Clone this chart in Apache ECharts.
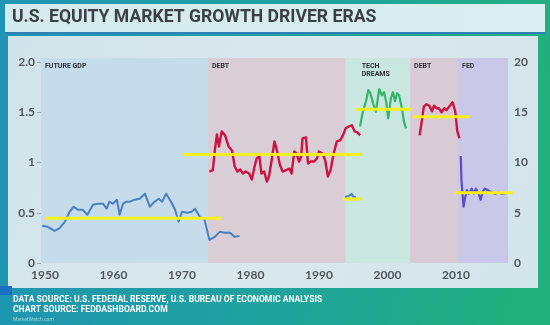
<!DOCTYPE html>
<html><head><meta charset="utf-8">
<script src="https://cdn.jsdelivr.net/npm/echarts@6/dist/echarts.min.js"></script>
<style>html,body{margin:0;padding:0;background:#1e9db0;}#c{width:550px;height:325px;}</style>
</head><body><div id="c"></div>
<script>
// ---- data ----
const xTickLabels = [1950, 1960, 1970, 1980, 1990, 2000, 2010];
const leftTicks = [0, 0.5, 1, 1.5, 2];
const rightTicks = [0, 5, 10, 15, 20];

const eraLabels = ['FUTURE GDP', 'DEBT', 'TECH\nDREAMS', 'DEBT', 'FED'];
const eraBounds = [1949.42, 1973.8, 1993.9, 2003.3, 2010.3, 2017.6];

const gdpYears = [1949.6,1950.4,1951.4,1952.1,1952.9,1953.6,1954.2,1954.8,1955.5,1956.2,1957.0,1957.7,1958.5,1959.0,1959.4,1959.9,1960.5,1960.9,1961.4,1961.9,1962.4,1963.1,1963.8,1964.6,1965.3,1966.0,1966.6,1967.1,1967.7,1968.4,1969.0,1969.5,1970.0,1970.8,1971.4,1971.9,1972.6,1973.3,1974.0,1974.8,1975.5,1976.2,1977.0,1977.7,1978.4];
const gdpValues = [0.37,0.36,0.32,0.345,0.41,0.51,0.56,0.53,0.53,0.48,0.58,0.59,0.59,0.54,0.61,0.59,0.63,0.48,0.59,0.61,0.61,0.63,0.64,0.69,0.56,0.61,0.64,0.61,0.69,0.61,0.53,0.41,0.51,0.50,0.51,0.54,0.46,0.43,0.23,0.26,0.31,0.30,0.30,0.26,0.27];

const gdp2Years = [1993.8,1994.4,1994.8,1995.0,1995.4];
const gdp2Values = [0.654,0.67,0.687,0.66,0.654];

const debtYears = [1974.0,1974.5,1974.8,1975.1,1975.4,1975.8,1976.3,1976.8,1977.3,1977.7,1978.1,1978.5,1978.9,1979.3,1979.8,1980.2,1980.6,1980.9,1981.3,1981.6,1982.0,1982.4,1982.7,1983.1,1983.5,1983.9,1984.3,1984.7,1985.2,1985.7,1986.0,1986.4,1986.7,1987.1,1987.4,1987.6,1988.1,1988.4,1988.8,1989.3,1989.7,1990.0,1990.5,1990.9,1991.3,1991.7,1992.1,1992.6,1993.1,1993.5,1993.9,1994.4,1994.8,1995.2,1995.6,1996.0];
const debtValues = [0.91,0.925,1.12,1.28,1.16,1.31,1.27,1.16,1.12,0.96,0.91,0.93,0.89,0.91,0.89,0.83,0.96,1.04,1.06,0.89,0.91,0.81,0.86,1.025,1.21,1.11,0.975,0.91,0.925,0.94,0.89,1.11,1.09,1.01,1.06,1.24,1.25,0.99,1.01,1.01,1.04,1.11,1.09,1.025,0.86,0.925,1.075,1.21,1.22,1.27,1.34,1.36,1.37,1.31,1.30,1.27];

const techYears = [1996.0,1996.4,1996.9,1997.2,1997.5,1997.9,1998.3,1998.6,1998.8,1999.2,1999.5,1999.8,2000.1,2000.5,2000.8,2001.1,2001.4,2001.7,2002.1,2002.4,2002.7];
const techValues = [1.36,1.505,1.62,1.72,1.69,1.59,1.505,1.64,1.73,1.67,1.70,1.61,1.44,1.64,1.70,1.61,1.69,1.67,1.54,1.41,1.34];

const debt2Years = [2004.7,2005.0,2005.3,2005.7,2006.1,2006.5,2006.8,2007.2,2007.5,2007.9,2008.3,2008.6,2009.0,2009.5,2009.9,2010.2,2010.5];
const debt2Values = [1.27,1.41,1.555,1.58,1.565,1.51,1.565,1.54,1.54,1.50,1.54,1.52,1.555,1.60,1.505,1.31,1.24];

const fedYears = [2010.7,2010.8,2011.1,2011.3,2011.6,2011.9,2012.3,2012.6,2012.9,2013.3,2013.6,2013.9,2014.2,2014.6,2015.0,2015.4,2015.7,2016.2,2016.7,2017.2];
const fedValues = [10.65,8.26,5.6,6.4,7.26,6.9,7.4,6.9,7.4,6.9,6.3,7.1,7.4,7.26,7.1,7.0,6.9,7.0,6.9,6.95];

const avgStart = [1950.0,1970.1,1993.5,1995.4,2003.7,2009.9];
const avgEnd   = [1975.7,1996.3,1996.3,2003.5,2012.0,2018.3];
const avgValue = [0.445,1.08,0.637,1.53,1.455,0.70];

// ---- build ----
const zip = (xs, ys) => xs.map((x, i) => [x, ys[i]]);
const eraColors = ['#c6dcea', '#d9cdd6', '#c9e7e0', '#d9cbd5', '#c9c8e8'];
const axisFont = 'Lato, "Open Sans", sans-serif';
const narrow = '"Liberation Sans Narrow", "Roboto", sans-serif';

const bands = eraLabels.map((name, i) => [
  { xAxis: eraBounds[i], itemStyle: { color: eraColors[i] },
    label: { offset: i === 2 ? [12, 0] : [0, 0] }, name: name },
  { xAxis: eraBounds[i + 1] }
]);

const lineSeries = (data, color, width, yIdx) => ({
  type: 'line', data: data, yAxisIndex: yIdx || 0, symbol: 'none',
  lineStyle: { color: color, width: width, join: 'round' }, silent: true, z: 3
});

const series = [
  {
    type: 'line', data: [], symbol: 'none', silent: true,
    markArea: {
      silent: true,
      label: { show: true, position: 'insideTopLeft', distance: 4, color: '#2c2f33',
        fontSize: 7, fontWeight: 'bold', fontFamily: narrow, lineHeight: 8,
        formatter: p => p.name },
      data: bands
    }
  },
  lineSeries(zip(gdpYears, gdpValues), '#4a80c2', 2),
  lineSeries(zip(gdp2Years, gdp2Values), '#4a80c2', 2),
  lineSeries(zip(debtYears, debtValues), '#cf1244', 2.4),
  lineSeries(zip(techYears, techValues), '#35b56a', 2.2),
  lineSeries(zip(debt2Years, debt2Values), '#cf1244', 2.4),
  lineSeries(zip(fedYears, fedValues), '#5a4fc2', 2.2, 1)
];
avgValue.forEach((v, i) => {
  series.push({ type: 'line', symbol: 'none', silent: true, z: 4,
    data: [[avgStart[i], v], [avgEnd[i], v]],
    lineStyle: { color: '#f4f01c', width: 3 } });
});

const chart = echarts.init(document.getElementById('c'), null, { renderer: 'canvas' });
chart.setOption({
  animation: false,
  backgroundColor: 'transparent',
  graphic: [
    { type: 'rect', shape: { x: 0, y: 0, width: 550, height: 325 }, z: -10,
      style: { fill: new echarts.graphic.LinearGradient(0, 0, 1, 0.3, [
        { offset: 0, color: '#1f93b4' }, { offset: 0.6, color: '#1fa39c' }, { offset: 1, color: '#22b07e' }]) } },
    { type: 'rect', shape: { x: 5, y: 4, width: 540, height: 30 }, z: -9,
      style: { fill: new echarts.graphic.LinearGradient(0, 0, 1, 0, [
        { offset: 0, color: '#d5eaee' }, { offset: 1, color: '#dceff0' }]) } },
    { type: 'rect', shape: { x: 5, y: 32, width: 540, height: 2 }, z: -8, style: { fill: '#2f80b8' } },
    { type: 'rect', shape: { x: 8, y: 36, width: 530, height: 252 }, z: -9,
      style: { fill: new echarts.graphic.LinearGradient(0, 0, 1, 1, [
        { offset: 0, color: '#d1e3ea' }, { offset: 0.5, color: '#dae8ed' }, { offset: 1, color: '#d3e4ea' }]) } },
    { type: 'rect', shape: { x: 0, y: 286, width: 12, height: 9 }, z: -8, style: { fill: '#1c6fc0' } },
    { type: 'text', x: 13, y: 300, z: 5,
      style: { text: 'DATA SOURCE: U.S. FEDERAL RESERVE, U.S. BUREAU OF ECONOMIC ANALYSIS',
        fill: '#ffffff', font: 'bold 8.6px ' + narrow, textVerticalAlign: 'middle' } },
    { type: 'text', x: 13, y: 310, z: 5,
      style: { text: 'CHART SOURCE: FEDDASHBOARD.COM',
        fill: '#ffffff', font: 'bold 8.6px ' + narrow, textVerticalAlign: 'middle' } },
    { type: 'text', x: 13, y: 319.5, z: 5,
      style: { text: 'MarketWatch.com', fill: 'rgba(255,255,255,0.55)', font: '5px ' + narrow,
        textVerticalAlign: 'middle' } }
  ],
  title: {
    text: 'U.S. EQUITY MARKET GROWTH DRIVER ERAS', left: 12, top: 9, padding: 0,
    textStyle: { color: '#3a4145', fontSize: 17.6, fontWeight: 'bold', fontFamily: narrow }
  },
  grid: { left: 41, right: 36, top: 58, bottom: 62, containLabel: false },
  xAxis: {
    type: 'value', min: 1949.42, max: 2018.47,
    axisLine: { show: false }, axisTick: { show: false }, splitLine: { show: false },
    axisLabel: { customValues: xTickLabels, color: '#4f575c', fontSize: 12, fontWeight: 'bold',
      fontFamily: axisFont, margin: 6, formatter: v => String(v) }
  },
  yAxis: [
    { type: 'value', min: 0, max: 2.04, position: 'left',
      axisLine: { show: false }, splitLine: { show: false },
      axisTick: { show: true, customValues: leftTicks, length: 4, lineStyle: { color: '#9aa6ab' } },
      axisLabel: { customValues: leftTicks, color: '#4f575c', fontSize: 12, fontWeight: 'bold',
        fontFamily: axisFont, margin: 6, formatter: v => (v === 2 ? '2.0' : String(v)) } },
    { type: 'value', min: 0, max: 20.4, position: 'right',
      axisLine: { show: false }, splitLine: { show: false }, axisTick: { show: false },
      axisLabel: { customValues: rightTicks, color: '#4f575c', fontSize: 12, fontWeight: 'bold',
        fontFamily: axisFont, margin: 0, formatter: v => String(v) } }
  ],
  series: series
});
</script>
</body></html>
